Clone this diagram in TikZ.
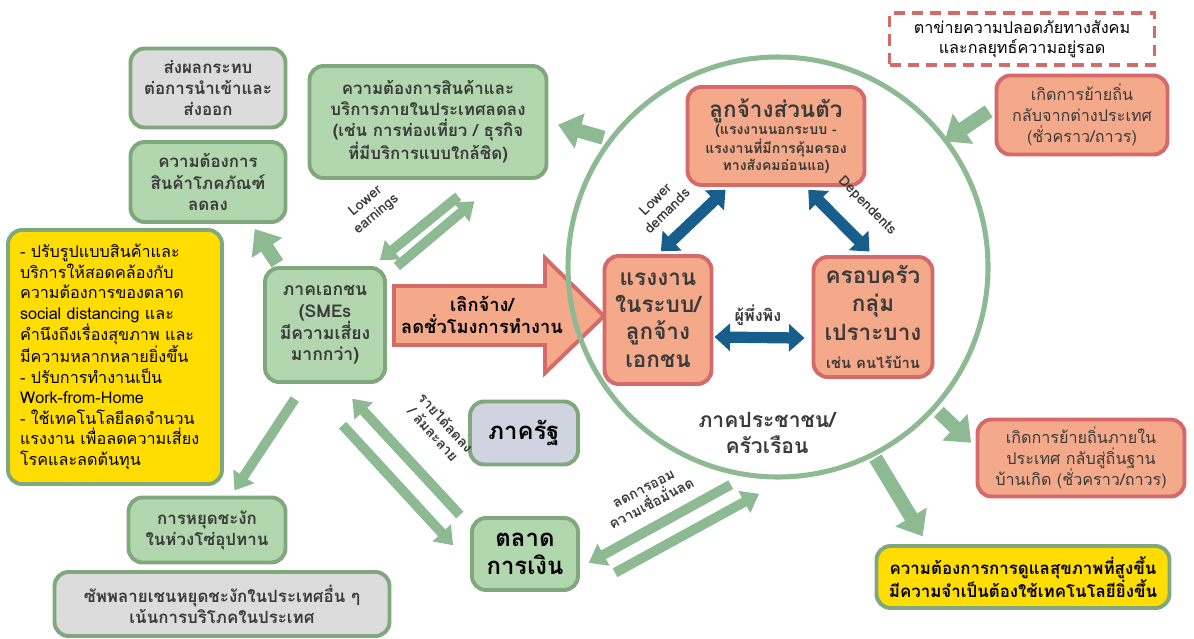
\documentclass[tikz,border=0pt]{standalone}
\usepackage{fontspec}
\setmainfont[Script=Thai]{Loma}
\usetikzlibrary{arrows.meta}

\newcommand{\pxu}{0.025cm}
\definecolor{boxgreen}{RGB}{178,214,174}
\definecolor{edgegreen}{RGB}{128,168,124}
\definecolor{arrowgreen}{RGB}{141,186,146}
\definecolor{boxgrey}{RGB}{220,220,220}
\definecolor{boxyellow}{RGB}{255,221,0}
\definecolor{boxsalmon}{RGB}{244,169,138}
\definecolor{edgered}{RGB}{212,106,106}
\definecolor{boxlilac}{RGB}{208,211,224}
\definecolor{arrowblue}{RGB}{24,94,140}
\definecolor{textgrey}{RGB}{58,58,58}

\tikzset{
  box/.style={rounded corners=10pt, line width=2.8pt, align=center, inner sep=2pt,
    text=textgrey, font=\bfseries\fontsize{12}{15}\selectfont},
  greenbox/.style={box, draw=edgegreen, fill=boxgreen},
  greybox/.style={box, draw=edgegreen, fill=boxgrey},
  yellowbox/.style={box, draw=edgegreen, fill=boxyellow, text=black},
  lilacbox/.style={box, draw=edgegreen, fill=boxlilac, text=black},
  redbox/.style={box, draw=edgered, fill=boxsalmon},
  bigarrow/.style={draw=arrowgreen, line width=10pt, -{Triangle[length=16pt,width=25pt]}},
  midarrow/.style={draw=arrowgreen, line width=7pt, -{Triangle[length=12pt,width=17pt]}},
  bluearrow/.style={draw=arrowblue, line width=8pt,
    {Triangle[length=11pt,width=19pt]}-{Triangle[length=11pt,width=19pt]}},
  note/.style={align=center, text=textgrey, inner sep=1pt, font=\bfseries\fontsize{10}{12}\selectfont}
}

\begin{document}
\begin{tikzpicture}[x=\pxu, y=-\pxu]
  \useasboundingbox (0,0) rectangle (1194,638);

  % business side
  \node[greybox, minimum width=155*\pxu, minimum height=79*\pxu] (trade) at (208,88)
    {ส่งผลกระทบ\\ต่อการนำเข้าและ\\ส่งออก};
  \node[greenbox, minimum width=155*\pxu, minimum height=80*\pxu] (commodity) at (208,182)
    {ความต้องการ\\สินค้าโภคภัณฑ์\\ลดลง};
  \node[greenbox, minimum width=237*\pxu, minimum height=112*\pxu] (domestic) at (428,122)
    {ความต้องการสินค้าและ\\บริการภายในประเทศลดลง\\(เช่น การท่องเที่ยว / ธุรกิจ\\ที่มีบริการแบบใกล้ชิด)};
  \node[yellowbox, align=left, text width=190*\pxu, inner xsep=12*\pxu,
        minimum height=254*\pxu, font=\fontsize{11.5}{14.6}\selectfont] (adapt) at (115,357)
    {- ปรับรูปแบบสินค้าและ\\บริการให้สอดคล้องกับ\\ความต้องการของตลาด\\social distancing และ\\คำนึงถึงเรื่องสุขภาพ และ\\มีความหลากหลายยิ่งขึ้น\\- ปรับการทำงานเป็น\\Work-from-Home\\- ใช้เทคโนโลยีลดจำนวน\\แรงงาน เพื่อลดความเสี่ยง\\โรคและลดต้นทุน};
  \node[greenbox, minimum width=120*\pxu, minimum height=114*\pxu,
        font=\bfseries\fontsize{12.5}{15.5}\selectfont] (smes) at (325,325)
    {ภาคเอกชน\\(SMEs\\มีความเสี่ยง\\มากกว่า)};
  \node[greenbox, minimum width=157*\pxu, minimum height=65*\pxu] (supply) at (207,530)
    {การหยุดชะงัก\\ในห่วงโซ่อุปทาน};
  \node[greybox, minimum width=335*\pxu, minimum height=64*\pxu] (abroad) at (222,604)
    {ซัพพลายเชนหยุดชะงักในประเทศอื่น ๆ\\เน้นการบริโภคในประเทศ};
  \node[lilacbox, minimum width=108*\pxu, minimum height=63*\pxu,
        font=\bfseries\fontsize{17}{20}\selectfont] (gov) at (524,433) {ภาครัฐ};
  \node[greenbox, minimum width=106*\pxu, minimum height=72*\pxu, text=black,
        font=\bfseries\fontsize{17}{20}\selectfont] (market) at (525,554) {ตลาด\\การเงิน};

  % layoff arrow
  \draw[draw=edgered, fill=boxsalmon, line width=2.8pt, line join=miter]
    (394,286) -- (545,286) -- (545,258) -- (604,316) -- (545,373) -- (545,345) -- (394,345) -- cycle;
  \node[align=center, text=black, font=\bfseries\fontsize{13}{15.5}\selectfont] (layoff) at (482,315)
    {เลิกจ้าง/\\ลดชั่วโมงการทำงาน};

  % households
  \node[circle, draw=arrowgreen, line width=3.6pt, minimum size=420*\pxu] (household) at (778,267) {};
  \node[note, font=\bfseries\fontsize{15}{18}\selectfont] (people) at (767,433) {ภาคประชาชน/\\ครัวเรือน};
  \node[redbox, minimum width=177*\pxu, minimum height=98*\pxu,
        font=\bfseries\fontsize{10}{12}\selectfont] (private) at (776,136)
    {{\fontsize{16}{18}\selectfont ลูกจ้างส่วนตัว}\\(แรงงานนอกระบบ -\\แรงงานที่มีการคุ้มครอง\\ทางสังคมอ่อนแอ)};
  \node[redbox, minimum width=107*\pxu, minimum height=128*\pxu,
        font=\bfseries\fontsize{16}{19.5}\selectfont] (formal) at (658,320)
    {แรงงาน\\ในระบบ/\\ลูกจ้าง\\เอกชน};
  \node[redbox, minimum width=119*\pxu, minimum height=120*\pxu,
        font=\bfseries\fontsize{16}{20}\selectfont] (family) at (873,317)
    {ครอบครัว\\กลุ่ม\\เปราะบาง\\{\fontsize{10.5}{12}\selectfont เช่น คนไร้บ้าน}};

  % migration and needs
  \node[draw=edgered, dashed, dash pattern=on 8pt off 5pt, line width=2.8pt, align=center,
        minimum width=265*\pxu, minimum height=52*\pxu,
        font=\fontsize{11.5}{14}\selectfont] (safety) at (1022,39)
    {ตาข่ายความปลอดภัยทางสังคม\\และกลยุทธ์ความอยู่รอด};
  \node[redbox, minimum width=171*\pxu, minimum height=79*\pxu,
        font=\fontsize{11.5}{15}\selectfont] (returnmig) at (1082,115)
    {เกิดการย้ายถิ่น\\กลับจากต่างประเทศ\\(ชั่วคราว/ถาวร)};
  \node[redbox, minimum width=207*\pxu, minimum height=77*\pxu,
        font=\fontsize{11.5}{15}\selectfont] (homemig) at (1081,458)
    {เกิดการย้ายถิ่นภายใน\\ประเทศ กลับสู่ถิ่นฐาน\\บ้านเกิด (ชั่วคราว/ถาวร)};
  \node[yellowbox, minimum width=293*\pxu, minimum height=62*\pxu] (health) at (1023,577)
    {ความต้องการการดูแลสุขภาพที่สูงขึ้น\\มีความจำเป็นต้องใช้เทคโนโลยียิ่งขึ้น};

  % green arrows
  \draw[bigarrow, shorten <=5*\pxu, shorten >=10*\pxu] (household.143) -- (domestic.east);
  \draw[bigarrow, shorten <=3*\pxu, shorten >=6*\pxu] (smes.128) -- (commodity.-44);
  \draw[midarrow, shorten <=26*\pxu, shorten >=9*\pxu] (domestic.-49) -- (smes.51);
  \draw[midarrow, shorten <=13*\pxu, shorten >=33*\pxu] (smes.39) -- (domestic.-39);
  \draw[midarrow, shorten <=18*\pxu, shorten >=6*\pxu] (smes.-109) -- (supply.55);
  \draw[midarrow, shorten <=15*\pxu, shorten >=20*\pxu] (market.153) -- (smes.-77);
  \draw[midarrow, shorten <=56*\pxu, shorten >=25*\pxu] (smes.-109) -- (market.190);
  \draw[midarrow, shorten <=16*\pxu, shorten >=10*\pxu] (household.261) -- (market.-14);
  \draw[midarrow, shorten <=40*\pxu, shorten >=30*\pxu] (market.south east) -- (household.272);
  \draw[bigarrow, shorten <=7*\pxu, shorten >=-4*\pxu] (returnmig.175) -- (household.37);
  \draw[bigarrow, shorten <=4*\pxu, shorten >=6*\pxu] (household.-42) -- (homemig.174);
  \draw[bigarrow, shorten <=2*\pxu, shorten >=9*\pxu] (household.-63) -- (health.161);

  % blue arrows
  \draw[bluearrow, shorten <=4*\pxu, shorten >=4*\pxu] (formal.north) -- (private.-133);
  \draw[bluearrow, shorten <=4*\pxu, shorten >=5*\pxu] (private.-60) -- (family.north);
  \draw[bluearrow, shorten <=1*\pxu, shorten >=7*\pxu] (formal.-17) -- (family.199);

  % labels
  \node[note, rotate=40] (earnings) at (371,208) {Lower\\earnings};
  \node[note, rotate=45] (demands) at (661,205) {Lower\\demands};
  \node[note, rotate=-45] (dependents) at (867,206) {Dependents};
  \node[note, font=\bfseries\fontsize{11.5}{12}\selectfont] (reliance) at (758,315) {ผู้พึ่งพิง};
  \node[note, rotate=-48] (income) at (440,428) {รายได้ลดลง\\/ ล้มละลาย};
  \node[note, rotate=28] (saving) at (648,497) {ลดการออม\\ความเชื่อมั่นลด};
\end{tikzpicture}
\end{document}
